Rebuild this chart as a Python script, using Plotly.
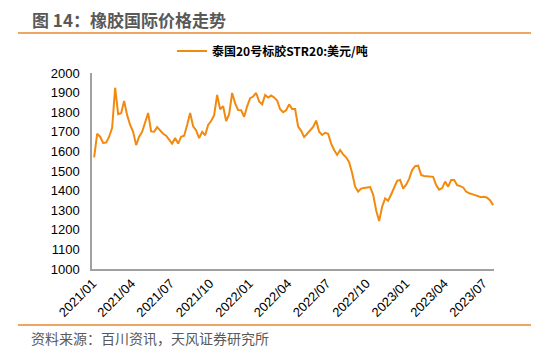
import pandas as pd
import plotly.graph_objects as go

# Weekly price readings (USD/ton), starting first week of Jan 2021
start_date = "2021-01-04"
prices = [
    1570, 1690, 1675, 1643, 1645, 1675, 1720, 1925, 1790, 1795,
    1857, 1785, 1735, 1700, 1632, 1675, 1700, 1745, 1796, 1702,
    1700, 1724, 1708, 1690, 1680, 1660, 1640, 1668, 1640, 1675,
    1680, 1735, 1796, 1728, 1707, 1668, 1700, 1682, 1735, 1755,
    1785, 1888, 1815, 1830, 1755, 1790, 1898, 1845, 1811, 1810,
    1777, 1830, 1872, 1880, 1898, 1855, 1840, 1888, 1875, 1885,
    1875, 1860, 1815, 1800, 1810, 1840, 1816, 1816, 1726, 1705,
    1673, 1690, 1705, 1725, 1757, 1700, 1684, 1695, 1690, 1640,
    1607, 1582, 1607, 1585, 1570, 1545, 1490, 1420, 1395, 1410,
    1413, 1415, 1418, 1380, 1300, 1245, 1318, 1360, 1348, 1380,
    1420, 1450, 1454, 1410, 1430, 1460, 1505, 1525, 1527, 1480,
    1475, 1474, 1474, 1470, 1428, 1405, 1413, 1446, 1420, 1454,
    1454, 1428, 1423, 1416, 1395, 1386, 1382, 1376, 1370, 1366,
    1368, 1364, 1350, 1326,
]
dates = pd.date_range(start_date, periods=len(prices), freq="7D")

series_name = "泰国20号标胶STR20:美元/吨"
tick_dates = ["2021-01-01", "2021-04-01", "2021-07-01", "2021-10-01",
              "2022-01-01", "2022-04-01", "2022-07-01", "2022-10-01",
              "2023-01-01", "2023-04-01", "2023-07-01"]
tick_labels = ["2021/01", "2021/04", "2021/07", "2021/10", "2022/01", "2022/04",
               "2022/07", "2022/10", "2023/01", "2023/04", "2023/07"]
y_ticks = list(range(1000, 2001, 100))

title_text = "图 14：橡胶国际价格走势"
source_text = "资料来源：百川资讯，天风证券研究所"

W, H = 552, 352
L, R, T, B = 92, 58, 73, 83
pw, ph = W - L - R, H - T - B

def px(x):
    return (x - L) / pw

def py(y):
    return (H - B - y) / ph

fig = go.Figure()
fig.add_trace(go.Scatter(
    x=dates, y=prices, mode="lines", name=series_name,
    line=dict(color="#F28A10", width=2),
))

fig.update_layout(
    width=W, height=H,
    margin=dict(l=L, r=R, t=T, b=B),
    paper_bgcolor="white", plot_bgcolor="white",
    font=dict(family="Liberation Sans, Arial, sans-serif", size=13, color="#000000"),
    showlegend=True,
    legend=dict(
        orientation="h", x=px(172), y=py(51), xanchor="left", yanchor="middle",
        font=dict(family="Noto Sans CJK SC", size=12, color="#000000", weight="bold"),
        itemwidth=30, bgcolor="rgba(0,0,0,0)",
    ),
    xaxis=dict(
        range=["2020-12-30", "2023-07-26"],
        tickvals=tick_dates, ticktext=tick_labels, tickangle=-45,
        showgrid=False, zeroline=False,
        showline=True, linecolor="#A0A0A0", linewidth=1.5,
        ticks="", tickfont=dict(size=13, color="#000000"),
    ),
    yaxis=dict(
        range=[1000, 2000], tickvals=y_ticks,
        showgrid=False, zeroline=False,
        showline=True, linecolor="#A0A0A0", linewidth=1.5,
        ticks="", ticklabelstandoff=8,
        tickfont=dict(size=13, color="#000000"),
    ),
    annotations=[
        dict(text=title_text, xref="paper", yref="paper", x=px(30), y=py(19),
             xanchor="left", yanchor="middle", showarrow=False,
             font=dict(family="Noto Sans CJK SC", size=17, color="#595959", weight="bold")),
        dict(text=source_text, xref="paper", yref="paper", x=px(29), y=py(338),
             xanchor="left", yanchor="middle", showarrow=False,
             font=dict(family="Noto Sans CJK SC", size=14, color="#595959")),
    ],
    shapes=[
        dict(type="line", xref="paper", yref="paper", x0=px(18), x1=px(531),
             y0=py(33), y1=py(33), line=dict(color="#E8892F", width=1.5)),
        dict(type="line", xref="paper", yref="paper", x0=px(18), x1=px(531),
             y0=py(325), y1=py(325), line=dict(color="#E8892F", width=1.5)),
    ],
)

fig.write_html("out.html")
